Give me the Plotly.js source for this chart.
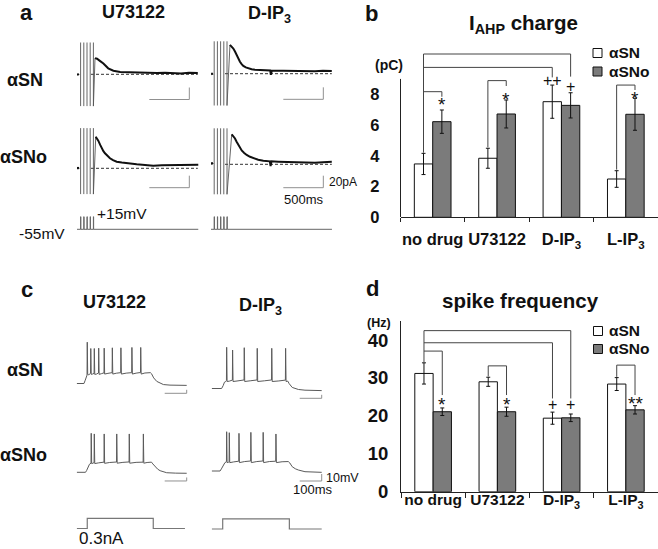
<!DOCTYPE html>
<html><head><meta charset="utf-8">
<script src="https://cdn.plot.ly/plotly-3.0.1.min.js"></script>
<style>html,body{margin:0;padding:0;background:#fff}#fig{width:658px;height:549px}</style>
</head><body><div id="fig"></div>
<script>
// ================= DATA =================
// bar charts (b: I_AHP charge in pC, d: spike frequency in Hz)
const drugs = ['no drug', 'U73122', 'D-IP<sub>3</sub>', 'L-IP<sub>3</sub>'];
const groupNames = ['αSN', 'αSNo'];
const ahpSN = [3.47, 3.84, 7.52, 2.49];
const ahpSNErr = [0.69, 0.65, 1.08, 0.54];
const ahpSNo = [6.22, 6.72, 7.28, 6.70];
const ahpSNoErr = [0.76, 0.91, 0.82, 1.04];
const freqSN = [31.2, 29.0, 19.4, 28.4];
const freqSNErr = [2.8, 1.2, 1.6, 1.7];
const freqSNo = [21.1, 21.1, 19.5, 21.6];
const freqSNoErr = [1.0, 1.2, 1.0, 1.1];
const ahpTicks = [0, 2, 4, 6, 8];
const freqTicks = [0, 10, 20, 30, 40];

// panel a: I_AHP current traces, [time ms, current pA]
const aCurUSN = [[0,0.5],[12,-0.5],[25,0.5],[null,null],[225,27],[250,26],[290,22],[330,18],[390,10],[455,6],[540,4],[620,3.5],[700,3],[800,2.5],[900,3],[1000,2],[1100,2.5],[1200,2],[1300,1.5],[1400,2.5],[1510,2]];
const aCurDSN = [[0,0.5],[12,-0.5],[25,0.5],[null,null],[237,48],[258,45],[279,42],[300,37],[321,31],[341,25],[362,20],[383,16],[404,13],[435,10.5],[466,9],[508,7.5],[550,6.7],[650,6],[740,5.5],[748,-2],[760,5],[900,5],[1000,4.5],[1100,5],[1200,4.5],[1300,4],[1400,5],[1510,4.5]];
const aCurUSNo = [[0,1],[12,0],[25,1.5],[null,null],[234,52.7],[250,50],[266,46],[290,39],[309,33],[330,28.5],[350,25],[380,20.5],[412,16.7],[450,13.5],[496,11],[560,9.5],[621,8.3],[680,7.5],[746,6.7],[850,5.5],[954,4.4],[1060,5],[1162,5],[1250,5.5],[1350,5.5],[1430,6],[1516,6]];
const aCurDSNo = [[0,2.5],[12,1],[25,2.5],[null,null],[259,50],[280,47],[300,43],[320,37.5],[341,32],[362,27],[384,23],[415,19],[446,15.5],[488,12.5],[529,10],[590,7.5],[654,6],[735,5],[745,-3],[755,5],[841,4.4],[950,4],[1091,3.3],[1200,3],[1300,2.5],[1400,3.5],[1510,4.4]];
// stimulus artefacts: times (ms), clipped extent (pA), and the tail rising to the peak
const aStimU = [45, 85, 125, 165, 205];
const aStimD = [40, 80, 120, 160, 200];
const aArtUSN = [53, -53], aArtDSN = [54, -53], aArtUSNo = [67, -43], aArtDSNo = [60, -50];
const aTailUSN = [[205,-53],[212,-20],[218,10],[225,27]];
const aTailDSN = [[200,-53],[210,-30],[222,10],[237,48]];
const aTailUSNo = [[205,-43],[215,-10],[225,30],[234,52.7]];
const aTailDSNo = [[200,-50],[215,-20],[235,20],[259,50]];
// voltage protocol (mV)
const aProtU = [[0,-55],[45,-55],[45,15],[48,15],[48,-55],[85,-55],[85,15],[88,15],[88,-55],[125,-55],[125,15],[128,15],[128,-55],[165,-55],[165,15],[168,15],[168,-55],[205,-55],[205,15],[208,15],[208,-55],[1516,-55]];
const aProtD = [[0,-55],[40,-55],[40,15],[43,15],[43,-55],[80,-55],[80,15],[83,15],[83,-55],[120,-55],[120,15],[123,15],[123,-55],[160,-55],[160,15],[163,15],[163,-55],[200,-55],[200,15],[203,15],[203,-55],[1512,-55]];

// panel c: membrane voltage traces, [time ms, mV]
const cVUSN = [[0,-60],[33,-60],[38,-56],[43,-50],[47,-48],[48,-1],[50,-47],[55,-47.5],[63,-45.5],[64,-10],[66,-47],[72,-46.5],[79,-45.5],[80,-10],[82,-47],[90,-46.5],[99,-45],[100,-9.5],[102,-47],[112,-46],[124,-44.8],[125,-9.5],[127,-46.5],[142,-45.5],[161,-44.5],[162,-9],[164,-46.5],[180,-45.3],[200,-44.5],[201,-9],[203,-46.5],[225,-45.2],[250,-44.5],[251,-8.5],[253,-46.5],[270,-45.2],[290,-44.3],[291,-8.5],[293,-46.5],[310,-45],[335,-44.5],[340,-46],[350,-52],[364,-57],[380,-60],[394,-61.5],[424,-62.3],[460,-62.6],[500,-62.7]];
const cVDSN = [[0,-60],[45,-60],[52,-56],[58,-51],[64,-50],[67,-48.5],[68,-1.1],[70,-50],[80,-49.5],[94,-48],[95,-5],[97,-50],[115,-49.3],[147,-47.8],[148,-1.7],[150,-50],[175,-49],[206,-47.8],[207,-2.6],[209,-50],[240,-49],[272,-47.8],[273,-2.6],[275,-50],[305,-49.2],[335,-48],[336,-2.6],[338,-50],[346,-49.5],[352,-53],[366,-58.5],[380,-60.5],[394,-61.4],[424,-62.4],[460,-62.8],[500,-63]];
const cVUSNo = [[0,-60],[40,-60],[45,-57.5],[52,-52],[58,-48.5],[65,-47],[66,-4.3],[68,-47.5],[74,-47],[79,-46],[80,-5.2],[82,-47.5],[100,-46.5],[124,-45.5],[125,-5.2],[127,-47.2],[150,-46],[181,-45.3],[182,-5.2],[184,-47],[210,-45.8],[238,-45.2],[239,-5.2],[241,-47],[270,-45.8],[302,-45.5],[303,-5.2],[305,-47],[320,-46],[340,-45.5],[346,-48],[356,-52],[368,-55.5],[379,-57.7],[394,-59.5],[409,-60.6],[450,-61.2],[500,-61.4]];
const cVDSNo = [[0,-60],[38,-60],[44,-57],[52,-51.5],[60,-48.1],[67,-46.7],[68,-3.9],[70,-48.1],[76,-47.5],[79,-46.7],[80,-5.3],[82,-48.1],[100,-47],[123,-46],[124,-6.2],[126,-48],[150,-46.5],[177,-45.7],[178,-4.8],[180,-48],[205,-46.5],[233,-45.7],[234,-4.8],[236,-48],[262,-46.5],[291,-46],[292,-7.1],[294,-48],[320,-46.8],[348,-46.5],[355,-48.5],[366,-53.9],[380,-56.8],[394,-58.6],[424,-61],[460,-61.7],[500,-61.9]];
// current step protocol (nA)
const cProtU = [[0,0],[48,0],[48,0.3],[348,0.3],[348,0],[492,0]];
const cProtD = [[0,0],[50,0],[50,0.3],[353,0.3],[353,0],[500,0]];

// ================= LAYOUT =================
const W = 658, H = 549;
const FONT = '"Liberation Sans", Arial, Helvetica, sans-serif';
const GRAY = '#7b7b7b';
const layout = {
  width: W, height: H, margin: {l:0, r:0, t:0, b:0, pad:0},
  paper_bgcolor: '#ffffff', plot_bgcolor: 'rgba(0,0,0,0)',
  showlegend: false, hovermode: false,
  barmode: 'group', bargap: 0.43, bargroupgap: 0,
  font: {family: FONT, color: '#111'},
  shapes: [], annotations: []
};
const px = v => v / W, py = v => 1 - v / H;

function sub(id, x0px, xScale, xr, yRefPx, yRefVal, yScale, yr) {
  const xp = v => x0px + v * xScale;
  const yp = v => yRefPx - (v - yRefVal) * yScale;
  layout['xaxis' + id] = {domain: [xp(xr[0]) / W, xp(xr[1]) / W], range: xr, visible: false, fixedrange: true, anchor: 'y' + id};
  layout['yaxis' + id] = {domain: [1 - yp(yr[0]) / H, 1 - yp(yr[1]) / H], range: yr, visible: false, fixedrange: true, anchor: 'x' + id};
}
// panel a
sub(3, 77, 0.08, [0, 1530], 74.3, 0, 0.6, [-60, 60]);
sub(4, 211, 0.08, [0, 1530], 73.7, 0, 0.6, [-60, 60]);
sub(5, 77, 0.08, [0, 1530], 168.3, 0, 0.6, [-60, 75]);
sub(6, 211, 0.08, [0, 1530], 164.3, 0, 0.6, [-60, 75]);
sub(7, 77, 0.08, [0, 1530], 229.3, -55, 0.18, [-80, 40]);
sub(8, 211, 0.08, [0, 1530], 229.3, -55, 0.18, [-80, 40]);
// panel c
sub(9, 76.7, 0.22, [0, 510], 383.5, -60, 0.7, [-80, 5]);
sub(10, 211.7, 0.22, [0, 510], 388.5, -60, 0.7, [-80, 5]);
sub(11, 76.7, 0.22, [0, 510], 472.3, -60, 0.7, [-80, 5]);
sub(12, 211.7, 0.22, [0, 510], 471, -60, 0.7, [-80, 5]);
sub(13, 76.7, 0.22, [0, 510], 528.5, 0, 34, [-0.2, 0.45]);
sub(14, 211.7, 0.22, [0, 510], 529, 0, 34, [-0.2, 0.45]);

// bar chart axes
const tickFontB = {family: FONT, size: 16.5, color: '#111', weight: 'bold'};
layout.xaxis = {domain: [400.5 / W, 1], type: 'category', categoryorder: 'array', categoryarray: drugs, range: [-0.5, 3.5],
  showline: true, linecolor: '#222', linewidth: 1, ticks: 'outside', tickson: 'boundaries', ticklen: 4, tickcolor: '#222',
  tickangle: 0, tickfont: tickFontB, ticklabelstandoff: 7, showgrid: false, zeroline: false, fixedrange: true, anchor: 'y'};
layout.yaxis = {domain: [1 - 217.3 / H, 1 - (217.3 - 11 * 15.375) / H], range: [0, 11], tickmode: 'array', tickvals: ahpTicks,
  ticks: '', showline: false, showgrid: false, zeroline: false, tickfont: tickFontB, ticklabelstandoff: 20, fixedrange: true, anchor: 'x'};
layout.xaxis2 = {domain: [401 / W, 1], type: 'category', categoryorder: 'array', categoryarray: drugs, range: [-0.5, 3.5],
  showline: true, linecolor: '#222', linewidth: 1, ticks: 'outside', tickson: 'boundaries', ticklen: 5, tickcolor: '#222',
  tickangle: 0, tickfont: {family: FONT, size: 15.5, color: '#111', weight: 'bold'}, ticklabelstandoff: -6, showgrid: false, zeroline: false, fixedrange: true, anchor: 'y2'};
layout.yaxis2 = {domain: [1 - 491.7 / H, 1 - (491.7 - 45 * 3.79) / H], range: [0, 45], tickmode: 'array', tickvals: freqTicks,
  ticks: '', showline: true, linecolor: '#222', linewidth: 1, showgrid: false, zeroline: false,
  tickfont: {family: FONT, size: 18.5, color: '#111', weight: 'bold'}, ticklabelstandoff: 8, fixedrange: true, anchor: 'x2'};

// y axis line of b (range extends above to host brackets)
layout.shapes.push({type: 'line', xref: 'x domain', yref: 'y', x0: 0, x1: 0, y0: 0, y1: 9, line: {color: '#222', width: 1}});

// ---- helpers ----
function seg(xref, yref, x0, y0, x1, y1, color, width, dash, layer) {
  layout.shapes.push({type: 'line', xref, yref, x0, y0, x1, y1, layer: layer || 'above',
    line: {color: color, width: width, dash: dash || 'solid'}});
}
function bracket(xref, yref, pts) {
  for (let i = 0; i < pts.length - 1; i++) seg(xref, yref, pts[i][0], pts[i][1], pts[i + 1][0], pts[i + 1][1], '#444', 1);
}
function ann(text, x, y, size, opt) {
  opt = opt || {};
  layout.annotations.push(Object.assign({text: text, x: x, y: y, xref: 'paper', yref: 'paper', showarrow: false,
    xanchor: 'center', yanchor: 'middle',
    font: {family: FONT, size: size, color: '#111', weight: opt.bold ? 'bold' : 'normal'}}, opt.extra || {}));
}
const T = (s, x, y, size, bold, xa) => ann(s, px(x), py(y), size, {bold: bold, extra: xa ? {xanchor: xa} : {}});

// ---- significance brackets ----
const w = 0.1425;
bracket('x', 'y', [[-w, 4.2], [-w, 10.62], [2 + w, 10.62], [2 + w, 9.15]]);
bracket('x', 'y', [[-w, 9.75], [2 - w, 9.75], [2 - w, 9.1]]);
bracket('x', 'y', [[-w, 8.17], [w, 8.17], [w, 7.84]]);
bracket('x', 'y', [[1 - w, 4.55], [1 - w, 8.89], [1 + w, 8.89], [1 + w, 8.54]]);
bracket('x', 'y', [[3 - w, 3.1], [3 - w, 8.6], [3 + w, 8.6], [3 + w, 8.28]]);
bracket('x2', 'y2', [[-w, 34.2], [-w, 42.5], [2 + w, 42.5], [2 + w, 24.6]]);
bracket('x2', 'y2', [[-w, 39.3], [2 - w, 39.3], [2 - w, 24.6]]);
bracket('x2', 'y2', [[-w, 37.1], [w, 37.1], [w, 25.5]]);
bracket('x2', 'y2', [[1 - w, 30.4], [1 - w, 33.2], [1 + w, 33.2], [1 + w, 25.5]]);
bracket('x2', 'y2', [[3 - w, 30.3], [3 - w, 33.4], [3 + w, 33.4], [3 + w, 25.5]]);
function sig(text, xref, yref, x, y, ys, size) {
  layout.annotations.push({text: text, xref: xref, yref: yref, x: x, y: y, showarrow: false, xanchor: 'center', yanchor: 'middle',
    yshift: ys, font: {family: FONT, size: size, color: '#111'}});
}
sig('*', 'x', 'y', w, 7.63, -5, 19); sig('*', 'x', 'y', 1 + w, 8.0, -5, 19); sig('++', 'x', 'y', 2 - w, 8.98, -1, 16);
sig('+', 'x', 'y', 2 + w, 8.54, -1, 16); sig('*', 'x', 'y', 3 + w, 8.02, -5, 19);
sig('*', 'x2', 'y2', w, 24.2, -5, 19); sig('*', 'x2', 'y2', 1 + w, 24.2, -5, 19); sig('+', 'x2', 'y2', 2 - w, 23.3, -1, 16);
sig('+', 'x2', 'y2', 2 + w, 23.3, -1, 16); sig('**', 'x2', 'y2', 3 + w, 24.5, -5, 19);

// ---- legends (drawn) ----
function legendBox(x0, y0, fill) {
  layout.shapes.push({type: 'rect', xref: 'paper', yref: 'paper', x0: px(x0), x1: px(x0 + 9), y0: py(y0 + 9), y1: py(y0),
    fillcolor: fill, line: {color: '#111', width: 1}});
}
legendBox(593, 48.5, '#fff'); legendBox(593, 67, GRAY);
legendBox(593.5, 326.5, '#fff'); legendBox(593.5, 344.5, GRAY);
T(groupNames[0], 606.5, 52.5, 15.5, true, 'left'); T(groupNames[1], 606.5, 71.5, 15.5, true, 'left');
T(groupNames[0], 606.5, 330.5, 15.5, true, 'left'); T(groupNames[1], 606.5, 348.5, 15.5, true, 'left');

// ---- texts ----
T('a', 26, 13, 22, true); T('b', 371, 14, 22, true); T('c', 27, 289, 22, true); T('d', 372, 288, 22, true);
T('I<sub>AHP</sub> charge', 523, 24, 20.5, true);
T('spike frequency', 520, 300, 20.5, true);
T('(pC)', 389, 65, 14, true); T('(Hz)', 378.5, 323, 12.5, true);
T('U73122', 133, 12.5, 18, true); T('D-IP<sub>3</sub>', 269, 14.5, 18, true);
T('U73122', 114, 302, 18, true); T('D-IP<sub>3</sub>', 260, 306, 18, true);
T('αSN', 24.5, 80, 18, true); T('αSNo', 23.5, 157, 18, true);
T('αSN', 25, 370, 18, true); T('αSNo', 23.5, 455, 18, true);
T('+15mV', 122, 213, 15.5, false); T('-55mV', 42, 233, 15.5, false);
T('500ms', 304, 199.5, 13, false); T('20pA', 326.5, 182, 12, false, 'left');
T('10mV', 324, 478, 12.5, false, 'left'); T('100ms', 313, 489, 13, false);
T('0.3nA', 101, 538, 17, false);

// ---- scale bars, dashed baselines ----
const SB = '#909090';
[[3, -42, -22], [4, -42.7, -22.7], [5, -32.3, -12.3], [6, -39, -19]].forEach(([id, y0, y1]) => {
  seg('x' + id, 'y' + id, 904, y0, 1404, y0, SB, 1);
  seg('x' + id, 'y' + id, 1404, y0, 1404, y1, SB, 1);
  seg('x' + id, 'y' + id, 175, 0, 1510, 0, '#333', 1, '3px,2px', 'below');
});
[[9, -74, -69], [10, -74, -69], [11, -72.4, -67.4], [12, -74.3, -64.3]].forEach(([id, y0, y1]) => {
  seg('x' + id, 'y' + id, 400, y0, 500, y0, SB, 1);
  seg('x' + id, 'y' + id, 500, y0, 500, y1, SB, 1);
});

// ================= TRACES =================
const data = [];
const X = p => p.map(d => d[0]), Y = p => p.map(d => d[1]);
function line(pts, id, color, width) {
  data.push({type: 'scatter', mode: 'lines', x: X(pts), y: Y(pts), xaxis: 'x' + id, yaxis: 'y' + id,
    line: {color: color, width: width, shape: 'linear'}, hoverinfo: 'skip', connectgaps: false});
}
function artefacts(times, ext, tail, id) {
  const x = [], y = [];
  times.forEach(t => { x.push(t, t, null); y.push(ext[0], ext[1], null); });
  tail.forEach(p => { x.push(p[0]); y.push(p[1]); });
  data.push({type: 'scatter', mode: 'lines', x: x, y: y, xaxis: 'x' + id, yaxis: 'y' + id,
    line: {color: '#555', width: 0.9}, hoverinfo: 'skip', connectgaps: false});
}
artefacts(aStimU, aArtUSN, aTailUSN, 3); artefacts(aStimD, aArtDSN, aTailDSN, 4);
artefacts(aStimU, aArtUSNo, aTailUSNo, 5); artefacts(aStimD, aArtDSNo, aTailDSNo, 6);
line(aCurUSN, 3, '#111', 2); line(aCurDSN, 4, '#111', 2); line(aCurUSNo, 5, '#111', 2); line(aCurDSNo, 6, '#111', 2);
line(aProtU, 7, '#666', 1); line(aProtD, 8, '#666', 1);
line(cVUSN, 9, '#5a5a5a', 1); line(cVDSN, 10, '#5a5a5a', 1); line(cVUSNo, 11, '#5a5a5a', 1); line(cVDSNo, 12, '#5a5a5a', 1);
line(cProtU, 13, '#777', 1.2); line(cProtD, 14, '#777', 1.2);

function bar(vals, errs, fill, name, xa, ya) {
  data.push({type: 'bar', name: name, x: drugs, y: vals, xaxis: xa, yaxis: ya,
    marker: {color: fill, line: {color: '#111', width: 1}},
    error_y: {type: 'data', array: errs, visible: true, color: '#111', thickness: 1, width: 2},
    hoverinfo: 'skip'});
}
bar(ahpSN, ahpSNErr, '#ffffff', groupNames[0], 'x', 'y');
bar(ahpSNo, ahpSNoErr, GRAY, groupNames[1], 'x', 'y');
bar(freqSN, freqSNErr, '#ffffff', groupNames[0], 'x2', 'y2');
bar(freqSNo, freqSNoErr, GRAY, groupNames[1], 'x2', 'y2');

Plotly.newPlot('fig', data, layout, {staticPlot: true, displayModeBar: false});
</script></body></html>
